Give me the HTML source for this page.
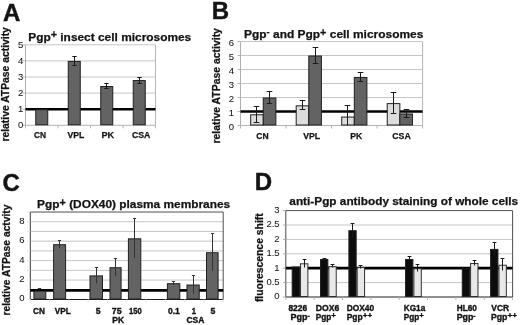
<!DOCTYPE html>
<html><head><meta charset="utf-8"><style>
html,body{margin:0;padding:0;background:#fff;width:520px;height:325px;overflow:hidden}
svg{display:block;font-family:"Liberation Sans", sans-serif;filter:grayscale(1)}
</style></head><body>
<svg width="520" height="325" viewBox="0 0 520 325">
<rect width="520" height="325" fill="#fff"/>
<text x="3.1" y="20.6" font-size="24" font-weight="bold" text-anchor="start" fill="#141414" stroke="#141414" stroke-width="0.45">A</text>
<line x1="25.50" y1="109.20" x2="155.50" y2="109.20" stroke="#c6c6c6" stroke-width="1"/>
<line x1="25.50" y1="93.10" x2="155.50" y2="93.10" stroke="#c6c6c6" stroke-width="1"/>
<line x1="25.50" y1="77.00" x2="155.50" y2="77.00" stroke="#c6c6c6" stroke-width="1"/>
<line x1="25.50" y1="60.90" x2="155.50" y2="60.90" stroke="#c6c6c6" stroke-width="1"/>
<line x1="25.50" y1="44.80" x2="155.50" y2="44.80" stroke="#c6c6c6" stroke-width="1"/>
<line x1="155.50" y1="44.80" x2="155.50" y2="125.30" stroke="#b4b4b4" stroke-width="1"/>
<line x1="25.50" y1="44.80" x2="25.50" y2="125.30" stroke="#b0b0b0" stroke-width="1"/>
<line x1="25.50" y1="125.30" x2="155.50" y2="125.30" stroke="#b4b4b4" stroke-width="1"/>
<line x1="22.50" y1="125.30" x2="25.50" y2="125.30" stroke="#b4b4b4" stroke-width="1"/>
<line x1="22.50" y1="109.20" x2="25.50" y2="109.20" stroke="#b4b4b4" stroke-width="1"/>
<line x1="22.50" y1="93.10" x2="25.50" y2="93.10" stroke="#b4b4b4" stroke-width="1"/>
<line x1="22.50" y1="77.00" x2="25.50" y2="77.00" stroke="#b4b4b4" stroke-width="1"/>
<line x1="22.50" y1="60.90" x2="25.50" y2="60.90" stroke="#b4b4b4" stroke-width="1"/>
<line x1="22.50" y1="44.80" x2="25.50" y2="44.80" stroke="#b4b4b4" stroke-width="1"/>
<line x1="25.50" y1="125.30" x2="25.50" y2="128.30" stroke="#b4b4b4" stroke-width="1"/>
<line x1="58.00" y1="125.30" x2="58.00" y2="128.30" stroke="#b4b4b4" stroke-width="1"/>
<line x1="90.50" y1="125.30" x2="90.50" y2="128.30" stroke="#b4b4b4" stroke-width="1"/>
<line x1="123.00" y1="125.30" x2="123.00" y2="128.30" stroke="#b4b4b4" stroke-width="1"/>
<line x1="155.50" y1="125.30" x2="155.50" y2="128.30" stroke="#b4b4b4" stroke-width="1"/>
<text x="23.2" y="128.22" font-size="9.5" font-weight="normal" text-anchor="end" fill="#141414" stroke="#141414" stroke-width="0.05">0</text>
<text x="23.2" y="112.12" font-size="9.5" font-weight="normal" text-anchor="end" fill="#141414" stroke="#141414" stroke-width="0.05">1</text>
<text x="23.2" y="96.02" font-size="9.5" font-weight="normal" text-anchor="end" fill="#141414" stroke="#141414" stroke-width="0.05">2</text>
<text x="23.2" y="79.92" font-size="9.5" font-weight="normal" text-anchor="end" fill="#141414" stroke="#141414" stroke-width="0.05">3</text>
<text x="23.2" y="63.82" font-size="9.5" font-weight="normal" text-anchor="end" fill="#141414" stroke="#141414" stroke-width="0.05">4</text>
<text x="23.2" y="47.72" font-size="9.5" font-weight="normal" text-anchor="end" fill="#141414" stroke="#141414" stroke-width="0.05">5</text>
<line x1="25.50" y1="109.20" x2="155.50" y2="109.20" stroke="#000" stroke-width="2.6"/>
<rect x="35.75" y="109.70" width="12.00" height="15.10" fill="#636363" stroke="#202020" stroke-width="1"/>
<rect x="68.25" y="61.40" width="12.00" height="63.40" fill="#636363" stroke="#202020" stroke-width="1"/>
<rect x="100.75" y="86.52" width="12.00" height="38.28" fill="#636363" stroke="#202020" stroke-width="1"/>
<rect x="133.25" y="80.56" width="12.00" height="44.24" fill="#636363" stroke="#202020" stroke-width="1"/>
<line x1="74.50" y1="56.50" x2="74.50" y2="65.50" stroke="#1a1a1a" stroke-width="1"/>
<line x1="72.30" y1="56.50" x2="76.70" y2="56.50" stroke="#1a1a1a" stroke-width="1"/>
<line x1="72.30" y1="65.50" x2="76.70" y2="65.50" stroke="#1a1a1a" stroke-width="1"/>
<line x1="106.50" y1="83.50" x2="106.50" y2="88.50" stroke="#1a1a1a" stroke-width="1"/>
<line x1="104.30" y1="83.50" x2="108.70" y2="83.50" stroke="#1a1a1a" stroke-width="1"/>
<line x1="104.30" y1="88.50" x2="108.70" y2="88.50" stroke="#1a1a1a" stroke-width="1"/>
<line x1="139.50" y1="77.50" x2="139.50" y2="83.50" stroke="#1a1a1a" stroke-width="1"/>
<line x1="137.30" y1="77.50" x2="141.70" y2="77.50" stroke="#1a1a1a" stroke-width="1"/>
<line x1="137.30" y1="83.50" x2="141.70" y2="83.50" stroke="#1a1a1a" stroke-width="1"/>
<text x="34.06" y="137.5" font-size="9" font-weight="bold" fill="#141414" stroke="#141414" stroke-width="0.25" textLength="12.10" lengthAdjust="spacingAndGlyphs">CN</text>
<text x="67.56" y="137.5" font-size="9" font-weight="bold" fill="#141414" stroke="#141414" stroke-width="0.25" textLength="16.80" lengthAdjust="spacingAndGlyphs">VPL</text>
<text x="101.46" y="137.5" font-size="9" font-weight="bold" fill="#141414" stroke="#141414" stroke-width="0.25" textLength="12.70" lengthAdjust="spacingAndGlyphs">PK</text>
<text x="131.96" y="137.5" font-size="9" font-weight="bold" fill="#141414" stroke="#141414" stroke-width="0.25" textLength="18.40" lengthAdjust="spacingAndGlyphs">CSA</text>
<text x="28.24" y="40.5" font-size="11" font-weight="bold" fill="#141414" stroke="#141414" stroke-width="0.25" textLength="163.00" lengthAdjust="spacingAndGlyphs">Pgp<tspan font-size="10" dy="-2.1">+</tspan><tspan dy="2.1"> insect cell microsomes</tspan></text>
<text transform="translate(9.3,84.35) rotate(-90)" x="0" y="0" font-size="10.5" font-weight="bold" text-anchor="middle" fill="#141414" stroke="#141414" stroke-width="0.25" textLength="114.35" lengthAdjust="spacingAndGlyphs">relative ATPase activity</text>
<text x="211.7" y="18.6" font-size="24" font-weight="bold" text-anchor="start" fill="#141414" stroke="#141414" stroke-width="0.45">B</text>
<line x1="240.50" y1="111.50" x2="422.60" y2="111.50" stroke="#c6c6c6" stroke-width="1"/>
<line x1="240.50" y1="97.50" x2="422.60" y2="97.50" stroke="#c6c6c6" stroke-width="1"/>
<line x1="240.50" y1="83.50" x2="422.60" y2="83.50" stroke="#c6c6c6" stroke-width="1"/>
<line x1="240.50" y1="69.50" x2="422.60" y2="69.50" stroke="#c6c6c6" stroke-width="1"/>
<line x1="240.50" y1="55.50" x2="422.60" y2="55.50" stroke="#c6c6c6" stroke-width="1"/>
<line x1="240.50" y1="41.50" x2="422.60" y2="41.50" stroke="#c6c6c6" stroke-width="1"/>
<line x1="422.60" y1="41.50" x2="422.60" y2="125.50" stroke="#b4b4b4" stroke-width="1"/>
<line x1="240.50" y1="41.50" x2="240.50" y2="125.50" stroke="#b0b0b0" stroke-width="1"/>
<line x1="240.50" y1="125.50" x2="422.60" y2="125.50" stroke="#b4b4b4" stroke-width="1"/>
<line x1="237.50" y1="125.50" x2="240.50" y2="125.50" stroke="#b4b4b4" stroke-width="1"/>
<line x1="237.50" y1="111.50" x2="240.50" y2="111.50" stroke="#b4b4b4" stroke-width="1"/>
<line x1="237.50" y1="97.50" x2="240.50" y2="97.50" stroke="#b4b4b4" stroke-width="1"/>
<line x1="237.50" y1="83.50" x2="240.50" y2="83.50" stroke="#b4b4b4" stroke-width="1"/>
<line x1="237.50" y1="69.50" x2="240.50" y2="69.50" stroke="#b4b4b4" stroke-width="1"/>
<line x1="237.50" y1="55.50" x2="240.50" y2="55.50" stroke="#b4b4b4" stroke-width="1"/>
<line x1="237.50" y1="41.50" x2="240.50" y2="41.50" stroke="#b4b4b4" stroke-width="1"/>
<line x1="240.50" y1="125.50" x2="240.50" y2="128.50" stroke="#b4b4b4" stroke-width="1"/>
<line x1="286.02" y1="125.50" x2="286.02" y2="128.50" stroke="#b4b4b4" stroke-width="1"/>
<line x1="331.55" y1="125.50" x2="331.55" y2="128.50" stroke="#b4b4b4" stroke-width="1"/>
<line x1="377.08" y1="125.50" x2="377.08" y2="128.50" stroke="#b4b4b4" stroke-width="1"/>
<line x1="422.60" y1="125.50" x2="422.60" y2="128.50" stroke="#b4b4b4" stroke-width="1"/>
<text x="234.0" y="129.92" font-size="9.5" font-weight="normal" text-anchor="end" fill="#141414" stroke="#141414" stroke-width="0.05">0</text>
<text x="234.0" y="115.92" font-size="9.5" font-weight="normal" text-anchor="end" fill="#141414" stroke="#141414" stroke-width="0.05">1</text>
<text x="234.0" y="101.92" font-size="9.5" font-weight="normal" text-anchor="end" fill="#141414" stroke="#141414" stroke-width="0.05">2</text>
<text x="234.0" y="87.92" font-size="9.5" font-weight="normal" text-anchor="end" fill="#141414" stroke="#141414" stroke-width="0.05">3</text>
<text x="234.0" y="73.92" font-size="9.5" font-weight="normal" text-anchor="end" fill="#141414" stroke="#141414" stroke-width="0.05">4</text>
<text x="234.0" y="59.92" font-size="9.5" font-weight="normal" text-anchor="end" fill="#141414" stroke="#141414" stroke-width="0.05">5</text>
<text x="234.0" y="45.92" font-size="9.5" font-weight="normal" text-anchor="end" fill="#141414" stroke="#141414" stroke-width="0.05">6</text>
<line x1="240.50" y1="111.50" x2="422.60" y2="111.50" stroke="#000" stroke-width="2.6"/>
<rect x="250.66" y="114.80" width="12.60" height="10.20" fill="#dcdcdc" stroke="#202020" stroke-width="1"/>
<rect x="263.26" y="98.00" width="12.60" height="27.00" fill="#636363" stroke="#202020" stroke-width="1"/>
<rect x="296.19" y="105.84" width="12.60" height="19.16" fill="#dcdcdc" stroke="#202020" stroke-width="1"/>
<rect x="308.79" y="56.00" width="12.60" height="69.00" fill="#636363" stroke="#202020" stroke-width="1"/>
<rect x="341.71" y="117.04" width="12.60" height="7.96" fill="#dcdcdc" stroke="#202020" stroke-width="1"/>
<rect x="354.31" y="77.42" width="12.60" height="47.58" fill="#636363" stroke="#202020" stroke-width="1"/>
<rect x="387.24" y="103.60" width="12.60" height="21.40" fill="#dcdcdc" stroke="#202020" stroke-width="1"/>
<rect x="399.84" y="113.96" width="12.60" height="11.04" fill="#636363" stroke="#202020" stroke-width="1"/>
<line x1="256.50" y1="106.50" x2="256.50" y2="122.50" stroke="#1a1a1a" stroke-width="1"/>
<line x1="253.70" y1="106.50" x2="259.30" y2="106.50" stroke="#1a1a1a" stroke-width="1"/>
<line x1="253.70" y1="122.50" x2="259.30" y2="122.50" stroke="#1a1a1a" stroke-width="1"/>
<line x1="269.50" y1="91.50" x2="269.50" y2="103.50" stroke="#1a1a1a" stroke-width="1"/>
<line x1="266.70" y1="91.50" x2="272.30" y2="91.50" stroke="#1a1a1a" stroke-width="1"/>
<line x1="266.70" y1="103.50" x2="272.30" y2="103.50" stroke="#1a1a1a" stroke-width="1"/>
<line x1="302.50" y1="100.50" x2="302.50" y2="109.50" stroke="#1a1a1a" stroke-width="1"/>
<line x1="299.70" y1="100.50" x2="305.30" y2="100.50" stroke="#1a1a1a" stroke-width="1"/>
<line x1="299.70" y1="109.50" x2="305.30" y2="109.50" stroke="#1a1a1a" stroke-width="1"/>
<line x1="315.50" y1="47.50" x2="315.50" y2="63.50" stroke="#1a1a1a" stroke-width="1"/>
<line x1="312.70" y1="47.50" x2="318.30" y2="47.50" stroke="#1a1a1a" stroke-width="1"/>
<line x1="312.70" y1="63.50" x2="318.30" y2="63.50" stroke="#1a1a1a" stroke-width="1"/>
<line x1="347.50" y1="105.50" x2="347.50" y2="125.50" stroke="#1a1a1a" stroke-width="1"/>
<line x1="344.70" y1="105.50" x2="350.30" y2="105.50" stroke="#1a1a1a" stroke-width="1"/>
<line x1="360.50" y1="72.50" x2="360.50" y2="81.50" stroke="#1a1a1a" stroke-width="1"/>
<line x1="357.70" y1="72.50" x2="363.30" y2="72.50" stroke="#1a1a1a" stroke-width="1"/>
<line x1="357.70" y1="81.50" x2="363.30" y2="81.50" stroke="#1a1a1a" stroke-width="1"/>
<line x1="393.50" y1="92.50" x2="393.50" y2="113.50" stroke="#1a1a1a" stroke-width="1"/>
<line x1="390.70" y1="92.50" x2="396.30" y2="92.50" stroke="#1a1a1a" stroke-width="1"/>
<line x1="390.70" y1="113.50" x2="396.30" y2="113.50" stroke="#1a1a1a" stroke-width="1"/>
<line x1="406.50" y1="109.50" x2="406.50" y2="117.50" stroke="#1a1a1a" stroke-width="1"/>
<line x1="403.70" y1="109.50" x2="409.30" y2="109.50" stroke="#1a1a1a" stroke-width="1"/>
<line x1="403.70" y1="117.50" x2="409.30" y2="117.50" stroke="#1a1a1a" stroke-width="1"/>
<text x="256.36" y="139.0" font-size="9" font-weight="bold" fill="#141414" stroke="#141414" stroke-width="0.25" textLength="12.30" lengthAdjust="spacingAndGlyphs">CN</text>
<text x="303.26" y="139.0" font-size="9" font-weight="bold" fill="#141414" stroke="#141414" stroke-width="0.25" textLength="16.90" lengthAdjust="spacingAndGlyphs">VPL</text>
<text x="350.26" y="139.0" font-size="9" font-weight="bold" fill="#141414" stroke="#141414" stroke-width="0.25" textLength="12.00" lengthAdjust="spacingAndGlyphs">PK</text>
<text x="392.26" y="139.0" font-size="9" font-weight="bold" fill="#141414" stroke="#141414" stroke-width="0.25" textLength="18.50" lengthAdjust="spacingAndGlyphs">CSA</text>
<text x="244.04" y="37.5" font-size="11" font-weight="bold" fill="#141414" stroke="#141414" stroke-width="0.25" textLength="179.30" lengthAdjust="spacingAndGlyphs">Pgp<tspan font-size="8.5" dy="-2.6">-</tspan><tspan dy="2.6"> and Pgp</tspan><tspan font-size="10" dy="-1.9">+</tspan><tspan dy="1.9"> cell microsomes</tspan></text>
<text transform="translate(219.8,85.80) rotate(-90)" x="0" y="0" font-size="10.5" font-weight="bold" text-anchor="middle" fill="#141414" stroke="#141414" stroke-width="0.25" textLength="115.45" lengthAdjust="spacingAndGlyphs">relative ATPase activity</text>
<text x="2.5" y="190.6" font-size="24" font-weight="bold" text-anchor="start" fill="#141414" stroke="#141414" stroke-width="0.45">C</text>
<line x1="30.30" y1="289.78" x2="223.20" y2="289.78" stroke="#c6c6c6" stroke-width="1"/>
<line x1="30.30" y1="280.06" x2="223.20" y2="280.06" stroke="#c6c6c6" stroke-width="1"/>
<line x1="30.30" y1="270.34" x2="223.20" y2="270.34" stroke="#c6c6c6" stroke-width="1"/>
<line x1="30.30" y1="260.62" x2="223.20" y2="260.62" stroke="#c6c6c6" stroke-width="1"/>
<line x1="30.30" y1="250.90" x2="223.20" y2="250.90" stroke="#c6c6c6" stroke-width="1"/>
<line x1="30.30" y1="241.18" x2="223.20" y2="241.18" stroke="#c6c6c6" stroke-width="1"/>
<line x1="30.30" y1="231.46" x2="223.20" y2="231.46" stroke="#c6c6c6" stroke-width="1"/>
<line x1="30.30" y1="221.74" x2="223.20" y2="221.74" stroke="#c6c6c6" stroke-width="1"/>
<line x1="30.30" y1="212.02" x2="223.20" y2="212.02" stroke="#505050" stroke-width="1"/>
<line x1="223.20" y1="212.02" x2="223.20" y2="299.50" stroke="#505050" stroke-width="1"/>
<line x1="30.30" y1="212.02" x2="30.30" y2="299.50" stroke="#3a3a3a" stroke-width="1"/>
<line x1="30.30" y1="299.50" x2="223.20" y2="299.50" stroke="#202020" stroke-width="1"/>
<line x1="27.30" y1="299.50" x2="30.30" y2="299.50" stroke="#e4e4e4" stroke-width="1"/>
<line x1="27.30" y1="289.78" x2="30.30" y2="289.78" stroke="#e4e4e4" stroke-width="1"/>
<line x1="27.30" y1="280.06" x2="30.30" y2="280.06" stroke="#e4e4e4" stroke-width="1"/>
<line x1="27.30" y1="270.34" x2="30.30" y2="270.34" stroke="#e4e4e4" stroke-width="1"/>
<line x1="27.30" y1="260.62" x2="30.30" y2="260.62" stroke="#e4e4e4" stroke-width="1"/>
<line x1="27.30" y1="250.90" x2="30.30" y2="250.90" stroke="#e4e4e4" stroke-width="1"/>
<line x1="27.30" y1="241.18" x2="30.30" y2="241.18" stroke="#e4e4e4" stroke-width="1"/>
<line x1="27.30" y1="231.46" x2="30.30" y2="231.46" stroke="#e4e4e4" stroke-width="1"/>
<line x1="27.30" y1="221.74" x2="30.30" y2="221.74" stroke="#e4e4e4" stroke-width="1"/>
<line x1="27.30" y1="212.02" x2="30.30" y2="212.02" stroke="#e4e4e4" stroke-width="1"/>
<line x1="30.30" y1="299.50" x2="30.30" y2="302.50" stroke="#e4e4e4" stroke-width="1"/>
<line x1="49.59" y1="299.50" x2="49.59" y2="302.50" stroke="#e4e4e4" stroke-width="1"/>
<line x1="68.88" y1="299.50" x2="68.88" y2="302.50" stroke="#e4e4e4" stroke-width="1"/>
<line x1="88.17" y1="299.50" x2="88.17" y2="302.50" stroke="#e4e4e4" stroke-width="1"/>
<line x1="107.46" y1="299.50" x2="107.46" y2="302.50" stroke="#e4e4e4" stroke-width="1"/>
<line x1="126.75" y1="299.50" x2="126.75" y2="302.50" stroke="#e4e4e4" stroke-width="1"/>
<line x1="146.04" y1="299.50" x2="146.04" y2="302.50" stroke="#e4e4e4" stroke-width="1"/>
<line x1="165.33" y1="299.50" x2="165.33" y2="302.50" stroke="#e4e4e4" stroke-width="1"/>
<line x1="184.62" y1="299.50" x2="184.62" y2="302.50" stroke="#e4e4e4" stroke-width="1"/>
<line x1="203.91" y1="299.50" x2="203.91" y2="302.50" stroke="#e4e4e4" stroke-width="1"/>
<line x1="223.20" y1="299.50" x2="223.20" y2="302.50" stroke="#e4e4e4" stroke-width="1"/>
<text x="24.6" y="301.42" font-size="9.5" font-weight="normal" text-anchor="end" fill="#141414" stroke="#141414" stroke-width="0.05">0</text>
<text x="24.6" y="281.98" font-size="9.5" font-weight="normal" text-anchor="end" fill="#141414" stroke="#141414" stroke-width="0.05">2</text>
<text x="24.6" y="262.54" font-size="9.5" font-weight="normal" text-anchor="end" fill="#141414" stroke="#141414" stroke-width="0.05">4</text>
<text x="24.6" y="243.1" font-size="9.5" font-weight="normal" text-anchor="end" fill="#141414" stroke="#141414" stroke-width="0.05">6</text>
<text x="24.6" y="223.66" font-size="9.5" font-weight="normal" text-anchor="end" fill="#141414" stroke="#141414" stroke-width="0.05">8</text>
<line x1="30.30" y1="290.38" x2="223.20" y2="290.38" stroke="#000" stroke-width="2.6"/>
<rect x="33.90" y="291.10" width="11.90" height="7.90" fill="#636363" stroke="#202020" stroke-width="1"/>
<rect x="53.60" y="244.70" width="12.00" height="54.30" fill="#636363" stroke="#202020" stroke-width="1"/>
<rect x="90.00" y="275.90" width="12.50" height="23.10" fill="#636363" stroke="#202020" stroke-width="1"/>
<rect x="110.00" y="267.70" width="11.10" height="31.30" fill="#636363" stroke="#202020" stroke-width="1"/>
<rect x="128.40" y="238.80" width="12.40" height="60.20" fill="#636363" stroke="#202020" stroke-width="1"/>
<rect x="167.40" y="283.70" width="12.40" height="15.30" fill="#636363" stroke="#202020" stroke-width="1"/>
<rect x="187.00" y="285.00" width="12.20" height="14.00" fill="#636363" stroke="#202020" stroke-width="1"/>
<rect x="206.50" y="252.70" width="11.60" height="46.30" fill="#636363" stroke="#202020" stroke-width="1"/>
<line x1="39.50" y1="288.50" x2="39.50" y2="289.50" stroke="#333" stroke-width="1"/>
<line x1="37.90" y1="288.50" x2="41.10" y2="288.50" stroke="#333" stroke-width="1"/>
<line x1="59.50" y1="240.50" x2="59.50" y2="248.30" stroke="#333" stroke-width="1"/>
<line x1="57.90" y1="240.50" x2="61.10" y2="240.50" stroke="#333" stroke-width="1"/>
<line x1="96.50" y1="267.50" x2="96.50" y2="283.40" stroke="#333" stroke-width="1"/>
<line x1="94.90" y1="267.50" x2="98.10" y2="267.50" stroke="#333" stroke-width="1"/>
<line x1="115.50" y1="258.50" x2="115.50" y2="276.20" stroke="#333" stroke-width="1"/>
<line x1="113.90" y1="258.50" x2="117.10" y2="258.50" stroke="#333" stroke-width="1"/>
<line x1="134.50" y1="218.50" x2="134.50" y2="258.10" stroke="#333" stroke-width="1"/>
<line x1="132.90" y1="218.50" x2="136.10" y2="218.50" stroke="#333" stroke-width="1"/>
<line x1="173.50" y1="281.50" x2="173.50" y2="284.90" stroke="#333" stroke-width="1"/>
<line x1="171.90" y1="281.50" x2="175.10" y2="281.50" stroke="#333" stroke-width="1"/>
<line x1="193.50" y1="275.50" x2="193.50" y2="293.70" stroke="#333" stroke-width="1"/>
<line x1="191.90" y1="275.50" x2="195.10" y2="275.50" stroke="#333" stroke-width="1"/>
<line x1="212.50" y1="233.50" x2="212.50" y2="270.90" stroke="#333" stroke-width="1"/>
<line x1="210.90" y1="233.50" x2="214.10" y2="233.50" stroke="#333" stroke-width="1"/>
<text x="33.01" y="313.8" font-size="8.2" font-weight="bold" fill="#141414" stroke="#141414" stroke-width="0.35" textLength="11.82" lengthAdjust="spacingAndGlyphs">CN</text>
<text x="54.71" y="313.8" font-size="8.2" font-weight="bold" fill="#141414" stroke="#141414" stroke-width="0.35" textLength="16.02" lengthAdjust="spacingAndGlyphs">VPL</text>
<text x="95.71" y="313.8" font-size="8.2" font-weight="bold" fill="#141414" stroke="#141414" stroke-width="0.35" textLength="4.82" lengthAdjust="spacingAndGlyphs">5</text>
<text x="111.81" y="313.8" font-size="8.2" font-weight="bold" fill="#141414" stroke="#141414" stroke-width="0.35" textLength="9.82" lengthAdjust="spacingAndGlyphs">75</text>
<text x="128.91" y="313.8" font-size="8.2" font-weight="bold" fill="#141414" stroke="#141414" stroke-width="0.35" textLength="12.72" lengthAdjust="spacingAndGlyphs">150</text>
<text x="167.91" y="313.8" font-size="8.2" font-weight="bold" fill="#141414" stroke="#141414" stroke-width="0.35" textLength="11.82" lengthAdjust="spacingAndGlyphs">0.1</text>
<text x="191.71" y="313.8" font-size="8.2" font-weight="bold" fill="#141414" stroke="#141414" stroke-width="0.35" textLength="4.22" lengthAdjust="spacingAndGlyphs">1</text>
<text x="210.51" y="313.8" font-size="8.2" font-weight="bold" fill="#141414" stroke="#141414" stroke-width="0.35" textLength="4.82" lengthAdjust="spacingAndGlyphs">5</text>
<text x="112.31" y="323.1" font-size="8.2" font-weight="bold" fill="#141414" stroke="#141414" stroke-width="0.35" textLength="11.82" lengthAdjust="spacingAndGlyphs">PK</text>
<text x="186.51" y="323.1" font-size="8.2" font-weight="bold" fill="#141414" stroke="#141414" stroke-width="0.35" textLength="17.82" lengthAdjust="spacingAndGlyphs">CSA</text>
<text x="37.14" y="207.6" font-size="11" font-weight="bold" fill="#141414" stroke="#141414" stroke-width="0.25" textLength="193.00" lengthAdjust="spacingAndGlyphs">Pgp<tspan font-size="10" dy="-1.3">+</tspan><tspan dy="1.3"> (DOX40) plasma membranes</tspan></text>
<text transform="translate(9.6,260.00) rotate(-90)" x="0" y="0" font-size="10.3" font-weight="bold" text-anchor="middle" fill="#141414" stroke="#141414" stroke-width="0.25" textLength="111.03" lengthAdjust="spacingAndGlyphs">relative ATPase actvity</text>
<text x="254.7" y="189.8" font-size="24" font-weight="bold" text-anchor="start" fill="#141414" stroke="#141414" stroke-width="0.45">D</text>
<line x1="285.80" y1="282.60" x2="512.60" y2="282.60" stroke="#c6c6c6" stroke-width="1"/>
<line x1="285.80" y1="268.20" x2="512.60" y2="268.20" stroke="#c6c6c6" stroke-width="1"/>
<line x1="285.80" y1="253.80" x2="512.60" y2="253.80" stroke="#c6c6c6" stroke-width="1"/>
<line x1="285.80" y1="239.40" x2="512.60" y2="239.40" stroke="#c6c6c6" stroke-width="1"/>
<line x1="285.80" y1="225.00" x2="512.60" y2="225.00" stroke="#c6c6c6" stroke-width="1"/>
<line x1="285.80" y1="210.60" x2="512.60" y2="210.60" stroke="#505050" stroke-width="1"/>
<line x1="512.60" y1="210.60" x2="512.60" y2="297.00" stroke="#505050" stroke-width="1"/>
<line x1="285.80" y1="210.60" x2="285.80" y2="297.00" stroke="#4a4a4a" stroke-width="1"/>
<line x1="285.80" y1="297.00" x2="512.60" y2="297.00" stroke="#202020" stroke-width="1"/>
<line x1="282.80" y1="297.00" x2="285.80" y2="297.00" stroke="#b0b0b0" stroke-width="1"/>
<line x1="282.80" y1="282.60" x2="285.80" y2="282.60" stroke="#b0b0b0" stroke-width="1"/>
<line x1="282.80" y1="268.20" x2="285.80" y2="268.20" stroke="#b0b0b0" stroke-width="1"/>
<line x1="282.80" y1="253.80" x2="285.80" y2="253.80" stroke="#b0b0b0" stroke-width="1"/>
<line x1="282.80" y1="239.40" x2="285.80" y2="239.40" stroke="#b0b0b0" stroke-width="1"/>
<line x1="282.80" y1="225.00" x2="285.80" y2="225.00" stroke="#b0b0b0" stroke-width="1"/>
<line x1="282.80" y1="210.60" x2="285.80" y2="210.60" stroke="#b0b0b0" stroke-width="1"/>
<line x1="285.80" y1="297.00" x2="285.80" y2="300.00" stroke="#b0b0b0" stroke-width="1"/>
<line x1="314.15" y1="297.00" x2="314.15" y2="300.00" stroke="#b0b0b0" stroke-width="1"/>
<line x1="342.50" y1="297.00" x2="342.50" y2="300.00" stroke="#b0b0b0" stroke-width="1"/>
<line x1="370.85" y1="297.00" x2="370.85" y2="300.00" stroke="#b0b0b0" stroke-width="1"/>
<line x1="399.20" y1="297.00" x2="399.20" y2="300.00" stroke="#b0b0b0" stroke-width="1"/>
<line x1="427.55" y1="297.00" x2="427.55" y2="300.00" stroke="#b0b0b0" stroke-width="1"/>
<line x1="455.90" y1="297.00" x2="455.90" y2="300.00" stroke="#b0b0b0" stroke-width="1"/>
<line x1="484.25" y1="297.00" x2="484.25" y2="300.00" stroke="#b0b0b0" stroke-width="1"/>
<line x1="512.60" y1="297.00" x2="512.60" y2="300.00" stroke="#b0b0b0" stroke-width="1"/>
<text x="279.6" y="299.42" font-size="9.5" font-weight="normal" text-anchor="end" fill="#141414" stroke="#141414" stroke-width="0.05">0</text>
<text x="279.6" y="285.02" font-size="9.5" font-weight="normal" text-anchor="end" fill="#141414" stroke="#141414" stroke-width="0.05">0.5</text>
<text x="279.6" y="270.62" font-size="9.5" font-weight="normal" text-anchor="end" fill="#141414" stroke="#141414" stroke-width="0.05">1</text>
<text x="279.6" y="256.22" font-size="9.5" font-weight="normal" text-anchor="end" fill="#141414" stroke="#141414" stroke-width="0.05">1.5</text>
<text x="279.6" y="241.82" font-size="9.5" font-weight="normal" text-anchor="end" fill="#141414" stroke="#141414" stroke-width="0.05">2</text>
<text x="279.6" y="227.42" font-size="9.5" font-weight="normal" text-anchor="end" fill="#141414" stroke="#141414" stroke-width="0.05">2.5</text>
<text x="279.6" y="213.02" font-size="9.5" font-weight="normal" text-anchor="end" fill="#141414" stroke="#141414" stroke-width="0.05">3</text>
<line x1="285.80" y1="268.20" x2="512.60" y2="268.20" stroke="#000" stroke-width="2.8"/>
<rect x="292.18" y="266.97" width="7.30" height="29.53" fill="#0c0c0c" stroke="#202020" stroke-width="1"/>
<rect x="300.48" y="263.80" width="7.40" height="32.70" fill="#e8e8e8" stroke="#303030" stroke-width="1"/>
<rect x="320.53" y="259.48" width="7.30" height="37.02" fill="#0c0c0c" stroke="#202020" stroke-width="1"/>
<rect x="328.83" y="266.68" width="7.40" height="29.82" fill="#e8e8e8" stroke="#303030" stroke-width="1"/>
<rect x="348.88" y="230.68" width="7.30" height="65.82" fill="#0c0c0c" stroke="#202020" stroke-width="1"/>
<rect x="357.18" y="267.55" width="7.40" height="28.95" fill="#e8e8e8" stroke="#303030" stroke-width="1"/>
<rect x="405.57" y="259.48" width="7.30" height="37.02" fill="#0c0c0c" stroke="#202020" stroke-width="1"/>
<rect x="413.88" y="268.70" width="7.40" height="27.80" fill="#e8e8e8" stroke="#303030" stroke-width="1"/>
<rect x="462.28" y="268.70" width="7.30" height="27.80" fill="#0c0c0c" stroke="#202020" stroke-width="1"/>
<rect x="470.58" y="263.52" width="7.40" height="32.98" fill="#e8e8e8" stroke="#303030" stroke-width="1"/>
<rect x="490.62" y="249.40" width="7.30" height="47.10" fill="#0c0c0c" stroke="#202020" stroke-width="1"/>
<rect x="498.93" y="265.24" width="7.40" height="31.26" fill="#e8e8e8" stroke="#303030" stroke-width="1"/>
<line x1="304.50" y1="259.50" x2="304.50" y2="267.50" stroke="#1a1a1a" stroke-width="1"/>
<line x1="302.60" y1="259.50" x2="306.40" y2="259.50" stroke="#1a1a1a" stroke-width="1"/>
<line x1="324.50" y1="258.50" x2="324.50" y2="259.50" stroke="#1a1a1a" stroke-width="1"/>
<line x1="322.60" y1="258.50" x2="326.40" y2="258.50" stroke="#1a1a1a" stroke-width="1"/>
<line x1="332.50" y1="264.50" x2="332.50" y2="267.50" stroke="#1a1a1a" stroke-width="1"/>
<line x1="330.60" y1="264.50" x2="334.40" y2="264.50" stroke="#1a1a1a" stroke-width="1"/>
<line x1="352.50" y1="223.50" x2="352.50" y2="237.50" stroke="#1a1a1a" stroke-width="1"/>
<line x1="350.60" y1="223.50" x2="354.40" y2="223.50" stroke="#1a1a1a" stroke-width="1"/>
<line x1="360.50" y1="265.50" x2="360.50" y2="268.50" stroke="#1a1a1a" stroke-width="1"/>
<line x1="358.60" y1="265.50" x2="362.40" y2="265.50" stroke="#1a1a1a" stroke-width="1"/>
<line x1="409.50" y1="256.50" x2="409.50" y2="261.50" stroke="#1a1a1a" stroke-width="1"/>
<line x1="407.60" y1="256.50" x2="411.40" y2="256.50" stroke="#1a1a1a" stroke-width="1"/>
<line x1="417.50" y1="264.50" x2="417.50" y2="271.50" stroke="#1a1a1a" stroke-width="1"/>
<line x1="415.60" y1="264.50" x2="419.40" y2="264.50" stroke="#1a1a1a" stroke-width="1"/>
<line x1="474.50" y1="260.50" x2="474.50" y2="265.50" stroke="#1a1a1a" stroke-width="1"/>
<line x1="472.60" y1="260.50" x2="476.40" y2="260.50" stroke="#1a1a1a" stroke-width="1"/>
<line x1="494.50" y1="242.50" x2="494.50" y2="255.50" stroke="#1a1a1a" stroke-width="1"/>
<line x1="492.60" y1="242.50" x2="496.40" y2="242.50" stroke="#1a1a1a" stroke-width="1"/>
<line x1="502.50" y1="258.50" x2="502.50" y2="270.50" stroke="#1a1a1a" stroke-width="1"/>
<line x1="500.60" y1="258.50" x2="504.40" y2="258.50" stroke="#1a1a1a" stroke-width="1"/>
<text x="288.40" y="310.7" font-size="8.4" font-weight="bold" fill="#141414" stroke="#141414" stroke-width="0.35" textLength="18.84" lengthAdjust="spacingAndGlyphs">8226</text>
<text x="290.50" y="319.7" font-size="8.4" font-weight="bold" fill="#141414" stroke="#141414" stroke-width="0.35" textLength="19.34" lengthAdjust="spacingAndGlyphs">Pgp<tspan font-size="6.5" dy="-2.2">-</tspan></text>
<text x="315.70" y="310.7" font-size="8.4" font-weight="bold" fill="#141414" stroke="#141414" stroke-width="0.35" textLength="23.54" lengthAdjust="spacingAndGlyphs">DOX6</text>
<text x="315.70" y="319.7" font-size="8.4" font-weight="bold" fill="#141414" stroke="#141414" stroke-width="0.35" textLength="20.14" lengthAdjust="spacingAndGlyphs">Pgp<tspan font-size="8" dy="-2">+</tspan></text>
<text x="346.70" y="310.7" font-size="8.4" font-weight="bold" fill="#141414" stroke="#141414" stroke-width="0.35" textLength="27.44" lengthAdjust="spacingAndGlyphs">DOX40</text>
<text x="346.70" y="319.7" font-size="8.4" font-weight="bold" fill="#141414" stroke="#141414" stroke-width="0.35" textLength="25.44" lengthAdjust="spacingAndGlyphs">Pgp<tspan font-size="8" dy="-2">++</tspan></text>
<text x="403.70" y="310.7" font-size="8.4" font-weight="bold" fill="#141414" stroke="#141414" stroke-width="0.35" textLength="21.54" lengthAdjust="spacingAndGlyphs">KG1a</text>
<text x="403.70" y="319.7" font-size="8.4" font-weight="bold" fill="#141414" stroke="#141414" stroke-width="0.35" textLength="20.04" lengthAdjust="spacingAndGlyphs">Pgp<tspan font-size="8" dy="-2">+</tspan></text>
<text x="456.70" y="310.7" font-size="8.4" font-weight="bold" fill="#141414" stroke="#141414" stroke-width="0.35" textLength="20.14" lengthAdjust="spacingAndGlyphs">HL60</text>
<text x="456.70" y="319.7" font-size="8.4" font-weight="bold" fill="#141414" stroke="#141414" stroke-width="0.35" textLength="18.94" lengthAdjust="spacingAndGlyphs">Pgp<tspan font-size="6.5" dy="-2.2">-</tspan></text>
<text x="491.30" y="310.7" font-size="8.4" font-weight="bold" fill="#141414" stroke="#141414" stroke-width="0.35" textLength="17.84" lengthAdjust="spacingAndGlyphs">VCR</text>
<text x="491.00" y="319.7" font-size="8.4" font-weight="bold" fill="#141414" stroke="#141414" stroke-width="0.35" textLength="26.14" lengthAdjust="spacingAndGlyphs">Pgp<tspan font-size="8" dy="-2">++</tspan></text>
<text x="289.37" y="204.5" font-size="10.5" font-weight="bold" fill="#141414" stroke="#141414" stroke-width="0.25" textLength="228.75" lengthAdjust="spacingAndGlyphs">anti-Pgp antibody staining of whole cells</text>
<text transform="translate(263,257.70) rotate(-90)" x="0" y="0" font-size="10.5" font-weight="bold" text-anchor="middle" fill="#141414" stroke="#141414" stroke-width="0.25" textLength="88.85" lengthAdjust="spacingAndGlyphs">fluorescence shift</text>
</svg>
</body></html>
